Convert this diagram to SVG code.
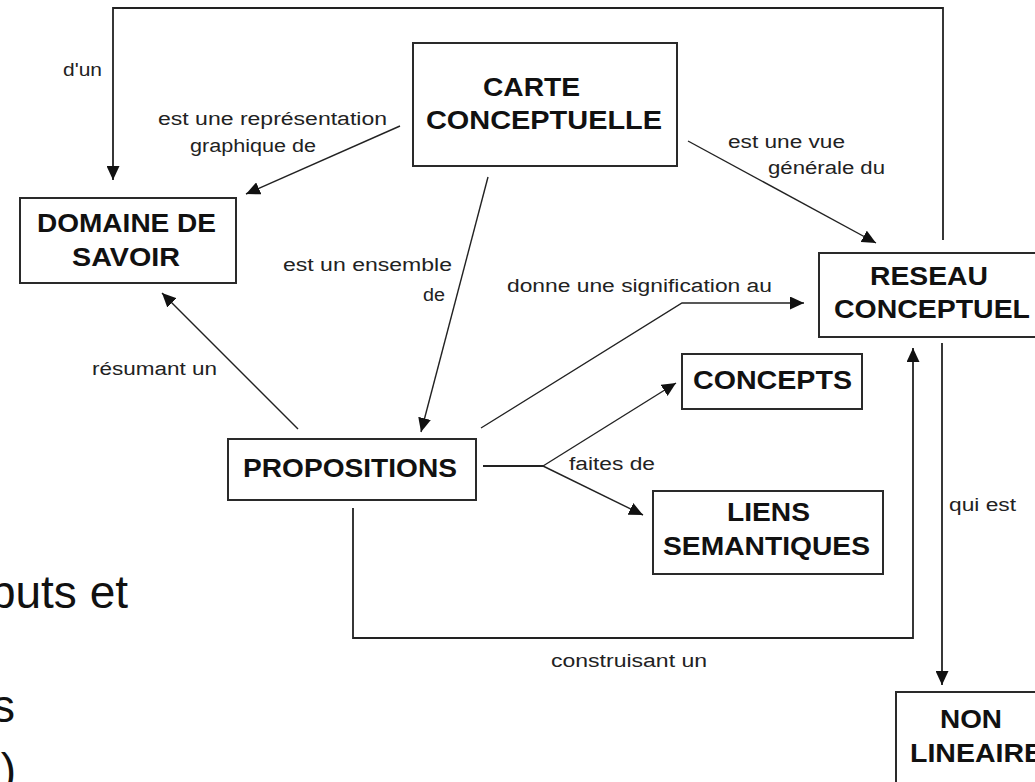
<svg xmlns="http://www.w3.org/2000/svg" width="1035" height="782" viewBox="0 0 1035 782">
  <style>
    .box { fill: #ffffff; stroke: #2a2a2a; stroke-width: 2; }
    .node { font-family: "Liberation Sans", Arial, sans-serif; font-size: 25px; font-weight: bold; fill: #111111; }
    .lbl { font-family: "Liberation Sans", Arial, sans-serif; font-size: 18px; fill: #222222; }
    .wire { fill: none; stroke: #222222; stroke-width: 1.8; }
    .diag { fill: none; stroke: #222222; stroke-width: 1.4; }
    .slide { font-family: "Liberation Sans", Arial, sans-serif; font-size: 46px; fill: #111111; }
  </style>
  <defs>
    <marker id="head" viewBox="0 0 14 13" refX="14" refY="6.5" markerWidth="14" markerHeight="13" markerUnits="userSpaceOnUse" orient="auto">
      <path d="M0,0 L14,6.5 L0,13 z" fill="#111111"/>
    </marker>
  </defs>

  <rect width="1035" height="782" fill="#ffffff"/>

  <!-- slide text partly hidden on the left -->
  <g id="slide-text">
    <text class="slide" x="128" y="608" text-anchor="end">buts et</text>
    <text class="slide" x="15" y="722" text-anchor="end">s</text>
    <text class="slide" x="16" y="786" text-anchor="end">)</text>
  </g>

  <!-- connectors -->
  <g id="connectors">
    <path class="wire" d="M943,240 V8 H113 V180" marker-end="url(#head)"/>
    <path class="diag" d="M400,126 L246,194" marker-end="url(#head)"/>
    <path class="diag" d="M688,141 L876,243" marker-end="url(#head)"/>
    <path class="diag" d="M488,177 L421,432" marker-end="url(#head)"/>
    <path class="diag" d="M298,429 L162,293" marker-end="url(#head)"/>
    <path class="diag" d="M481,428 L682,303 H804" marker-end="url(#head)"/>
    <path class="wire" d="M483,466 H543"/>
    <path class="diag" d="M543,466 L676,383" marker-end="url(#head)"/>
    <path class="diag" d="M543,466 L643,515" marker-end="url(#head)"/>
    <path class="wire" d="M353,508 V638 H913 V348" marker-end="url(#head)"/>
    <path class="wire" d="M942,343 V685" marker-end="url(#head)"/>

    <text class="lbl" x="63" y="76" textLength="39" lengthAdjust="spacingAndGlyphs">d'un</text>
    <text class="lbl" x="158" y="125" textLength="229" lengthAdjust="spacingAndGlyphs">est une représentation</text>
    <text class="lbl" x="190" y="152" textLength="126" lengthAdjust="spacingAndGlyphs">graphique de</text>
    <text class="lbl" x="728" y="148" textLength="117" lengthAdjust="spacingAndGlyphs">est une vue</text>
    <text class="lbl" x="768" y="174" textLength="117" lengthAdjust="spacingAndGlyphs">générale du</text>
    <text class="lbl" x="283" y="271" textLength="169" lengthAdjust="spacingAndGlyphs">est un ensemble</text>
    <text class="lbl" x="423" y="301" textLength="22" lengthAdjust="spacingAndGlyphs">de</text>
    <text class="lbl" x="507" y="292" textLength="265" lengthAdjust="spacingAndGlyphs">donne une signification au</text>
    <text class="lbl" x="92" y="375" textLength="125" lengthAdjust="spacingAndGlyphs">résumant un</text>
    <text class="lbl" x="569" y="470" textLength="86" lengthAdjust="spacingAndGlyphs">faites de</text>
    <text class="lbl" x="949" y="511" textLength="67" lengthAdjust="spacingAndGlyphs">qui est</text>
    <text class="lbl" x="551" y="667" textLength="156" lengthAdjust="spacingAndGlyphs">construisant un</text>
  </g>

  <!-- nodes -->
  <g id="carte-conceptuelle">
    <rect class="box" x="413" y="43" width="264" height="123"/>
    <text class="node" x="483" y="96" textLength="97" lengthAdjust="spacingAndGlyphs">CARTE</text>
    <text class="node" x="426" y="129" textLength="236" lengthAdjust="spacingAndGlyphs">CONCEPTUELLE</text>
  </g>

  <g id="domaine-de-savoir">
    <rect class="box" x="20" y="198" width="216" height="85"/>
    <text class="node" x="37" y="232" textLength="179" lengthAdjust="spacingAndGlyphs">DOMAINE DE</text>
    <text class="node" x="72" y="266" textLength="108" lengthAdjust="spacingAndGlyphs">SAVOIR</text>
  </g>

  <g id="reseau-conceptuel">
    <rect class="box" x="819" y="253" width="230" height="84"/>
    <text class="node" x="870" y="285" textLength="118" lengthAdjust="spacingAndGlyphs">RESEAU</text>
    <text class="node" x="834" y="318" textLength="196" lengthAdjust="spacingAndGlyphs">CONCEPTUEL</text>
  </g>

  <g id="propositions">
    <rect class="box" x="228" y="439" width="248" height="61"/>
    <text class="node" x="243" y="477" textLength="214" lengthAdjust="spacingAndGlyphs">PROPOSITIONS</text>
  </g>

  <g id="concepts">
    <rect class="box" x="682" y="354" width="180" height="55"/>
    <text class="node" x="693" y="389" textLength="159" lengthAdjust="spacingAndGlyphs">CONCEPTS</text>
  </g>

  <g id="liens-semantiques">
    <rect class="box" x="653" y="491" width="230" height="83"/>
    <text class="node" x="727" y="521" textLength="83" lengthAdjust="spacingAndGlyphs">LIENS</text>
    <text class="node" x="663" y="555" textLength="207" lengthAdjust="spacingAndGlyphs">SEMANTIQUES</text>
  </g>

  <g id="non-lineaire">
    <rect class="box" x="896" y="692" width="160" height="110"/>
    <text class="node" x="940" y="728" textLength="62" lengthAdjust="spacingAndGlyphs">NON</text>
    <text class="node" x="910" y="762" textLength="133" lengthAdjust="spacingAndGlyphs">LINEAIRE</text>
  </g>
</svg>
